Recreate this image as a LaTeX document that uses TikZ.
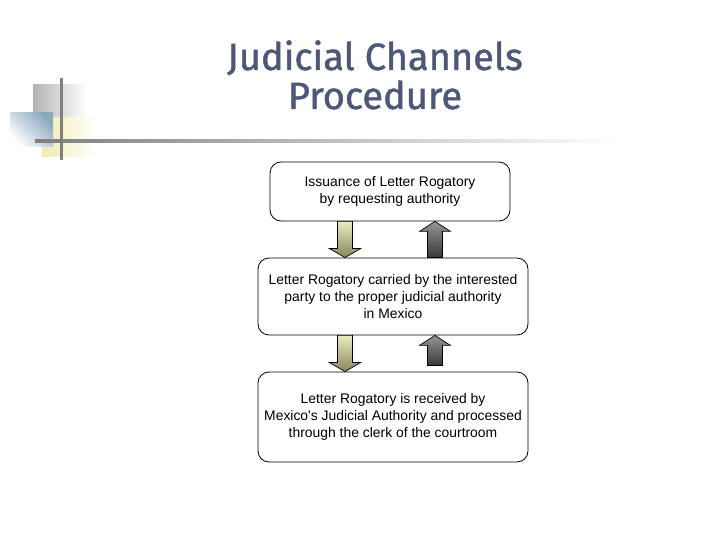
\documentclass[tikz,border=0pt]{standalone}
\usepackage{fontspec}
\defaultfontfeatures[\rmfamily]{}
\setmainfont{Liberation Sans}
\newfontfamily\titlefont[FakeBold=1.2]{Fira Sans}
\usetikzlibrary{calc}

\definecolor{titleblue}{HTML}{4D5878}
\definecolor{ornGray}{HTML}{B4B4B4}
\definecolor{ornYellow}{HTML}{F0ECB2}
\definecolor{ornBlue}{HTML}{8DA8BD}
\definecolor{ornLine}{HTML}{7F7F7F}
\definecolor{downTop}{HTML}{EDEAC0}
\definecolor{downBot}{HTML}{86855B}
\definecolor{upTop}{HTML}{959595}
\definecolor{upBot}{HTML}{383838}

\tikzset{
  box/.style={draw, line width=0.8pt, rounded corners=11pt, align=center, inner sep=0pt,
    font=\fontsize{13.9}{17}\selectfont},
  downfill/.style={draw, line width=0.7pt, top color=downTop, bottom color=downBot},
  upfill/.style={draw, line width=0.7pt, top color=upTop, bottom color=upBot}
}

% block arrows: #1 = start point, #2 = tip point (same x)
\newcommand{\downblock}[2]{%
  \path[downfill] let \p1=(#1), \p2=(#2) in
    (\x1-7.5pt,\y1) -- (\x1+7.5pt,\y1) -- (\x1+7.5pt,\y2+9pt) -- (\x1+15.5pt,\y2+9pt)
    -- (\x1,\y2) -- (\x1-15.5pt,\y2+9pt) -- (\x1-7.5pt,\y2+9pt) -- cycle;}
\newcommand{\upblock}[2]{%
  \path[upfill] let \p1=(#1), \p2=(#2) in
    (\x1-7.5pt,\y1) -- (\x1+7.5pt,\y1) -- (\x1+7.5pt,\y2-10pt) -- (\x1+15.5pt,\y2-10pt)
    -- (\x1,\y2) -- (\x1-15.5pt,\y2-10pt) -- (\x1-7.5pt,\y2-10pt) -- cycle;}

\begin{document}
\begin{tikzpicture}[x=1pt,y=1pt]
\useasboundingbox (0,0) rectangle (720,540);

% corner ornament
\shade[left color=ornGray, right color=white] (33,420) rectangle (87,455);
\shade[left color=ornYellow, right color=white] (42,383) rectangle (97,422);
\shade[top color=ornBlue, bottom color=white, shading angle=-45] (10,393) rectangle (53,427);
\shade[left color=ornLine, middle color=ornLine!70, right color=white] (35,397.5) rectangle (620,400.5);
\fill[ornLine] (59.5,380) rectangle (62.5,462);

% title
\node[anchor=base, font=\titlefont\fontsize{38}{44}\selectfont, text=titleblue] (title1) at (375,470) {Judicial Channels};
\node[anchor=base, font=\titlefont\fontsize{38}{44}\selectfont, text=titleblue] (title2) at (375,431) {Procedure};

\node[box, minimum width=240pt, minimum height=59pt] (issue) at (390,348.5) {Issuance of Letter Rogatory\\by requesting authority};
\node[box, minimum width=270pt, minimum height=77pt] (carry) at (393,243.5) {Letter Rogatory carried by the interested\\party to the proper judicial authority\\in Mexico};
\node[box, minimum width=270pt, minimum height=90pt] (receive) at (393,123) {Letter Rogatory is received by\\Mexico's Judicial Authority and processed\\through the clerk of the courtroom};

\coordinate (d1) at ([xshift=-45pt]issue.south);
\coordinate (u1) at ([xshift=45pt]issue.south);
\downblock{d1}{d1 |- carry.north}
\upblock{u1 |- carry.north}{u1}
\downblock{d1 |- carry.south}{d1 |- receive.north}
\upblock{$(u1 |- receive.north)+(0,6pt)$}{u1 |- carry.south}

\end{tikzpicture}
\end{document}
